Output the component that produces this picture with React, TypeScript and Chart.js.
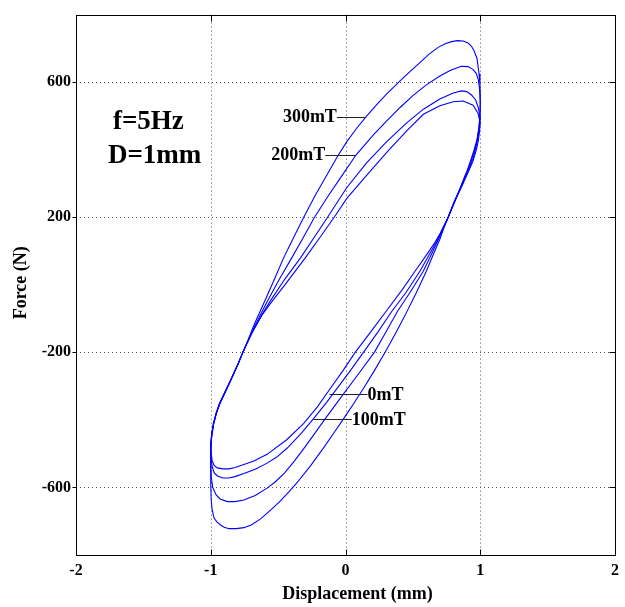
import React, { useEffect, useRef } from "react";
import { Chart, registerables } from "chart.js";

Chart.register(...registerables);

// ---- axes ----
const xMin = -2;
const xMax = 2;
const yMin = -800;
const yMax = 800;
const xTicks = [-2, -1, 0, 1, 2];
const yTicks = [-600, -200, 200, 600];
const xTitle = "Displacement (mm)";
const yTitle = "Force (N)";

// ---- hysteresis loops (displacement mm, force N) ----
const disp0mT = [
  -1.0, -0.993, -0.98, -0.96, -0.935, -0.9, -0.85, -0.8, -0.762, -0.7, -0.62, -0.545, -0.45, -0.3, -0.19, -0.084, 0.01, 0.158, 0.306, 0.454, 0.578, 0.7, 0.8, 0.873, 0.947, 0.984, 1.0,
  0.995, 0.985, 0.97, 0.945, 0.91, 0.87, 0.82, 0.762, 0.7, 0.663, 0.6, 0.516, 0.42, 0.306, 0.19, 0.072, -0.02, -0.118, -0.21, -0.31, -0.434, -0.582, -0.68, -0.754, -0.82, -0.865, -0.91, -0.951, -0.975, -0.99, -0.998, -1.0,
];
const force0mT = [
  -470, -440, -410, -380, -352, -322, -280, -237, -200, -145, -90, -49, 0, 79, 140, 200, 256, 325, 392, 456, 505, 530, 542, 544, 532, 507, 480,
  455, 425, 398, 365, 333, 298, 255, 200, 150, 125, 88, 40, -15, -76, -138, -200, -255, -310, -362, -410, -458, -502, -522, -532, -541, -545, -545, -542, -535, -520, -495, -470,
];

const disp100mT = [
  -1.0, -0.993, -0.98, -0.96, -0.935, -0.895, -0.85, -0.8, -0.762, -0.7, -0.63, -0.56, -0.45, -0.335, -0.233, -0.133, 0.01, 0.158, 0.306, 0.45, 0.578, 0.7, 0.8, 0.861, 0.9, 0.935, 0.965, 0.985, 1.0,
  0.995, 0.985, 0.97, 0.945, 0.91, 0.87, 0.82, 0.762, 0.7, 0.68, 0.62, 0.552, 0.45, 0.343, 0.24, 0.133, 0.04, -0.05, -0.14, -0.237, -0.334, -0.434, -0.51, -0.582, -0.67, -0.754, -0.82, -0.865, -0.91, -0.951, -0.975, -0.99, -0.998, -1.0,
];
const force100mT = [
  -478, -445, -412, -381, -352, -318, -280, -237, -200, -148, -95, -49, 17, 79, 140, 200, 288, 362, 424, 478, 520, 550, 568, 574, 572, 562, 548, 525, 495,
  470, 440, 410, 372, 338, 300, 256, 200, 148, 130, 88, 40, -22, -79, -140, -200, -252, -300, -348, -396, -442, -484, -510, -528, -546, -559, -568, -572, -572, -566, -556, -538, -510, -478,
];

const disp200mT = [
  -1.0, -0.993, -0.98, -0.96, -0.935, -0.89, -0.845, -0.8, -0.762, -0.7, -0.64, -0.58, -0.49, -0.4, -0.31, -0.23, -0.13, -0.04, 0.079, 0.207, 0.306, 0.405, 0.5, 0.6, 0.7, 0.78, 0.86, 0.91, 0.945, 0.97, 0.985, 0.995, 1.0,
  0.997, 0.99, 0.975, 0.955, 0.925, 0.885, 0.835, 0.8, 0.762, 0.72, 0.685, 0.64, 0.577, 0.48, 0.385, 0.3, 0.214, 0.1, -0.02, -0.15, -0.3, -0.38, -0.45, -0.52, -0.582, -0.67, -0.754, -0.82, -0.877, -0.93, -0.96, -0.985, -0.996, -1.0, -1.0,
];
const force200mT = [
  -482, -448, -414, -382, -352, -315, -277, -237, -200, -145, -95, -49, 17, 79, 142, 200, 262, 315, 385, 444, 485, 525, 560, 592, 618, 635, 647, 646, 638, 626, 608, 580, 540,
  500, 465, 425, 395, 357, 320, 270, 238, 200, 162, 130, 92, 40, -22, -79, -140, -200, -262, -326, -396, -480, -522, -556, -583, -602, -624, -637, -642, -642, -634, -622, -600, -570, -540, -482,
];

const disp300mT = [
  -1.0, -0.993, -0.98, -0.96, -0.93, -0.885, -0.84, -0.8, -0.762, -0.72, -0.68, -0.64, -0.6, -0.53, -0.46, -0.385, -0.31, -0.22, -0.138, -0.06, 0.01, 0.08, 0.158, 0.23, 0.306, 0.405, 0.48, 0.552, 0.62, 0.688, 0.74, 0.787, 0.83, 0.873, 0.91, 0.935, 0.955, 0.976, 0.991, 0.998, 1.0,
  1.0, 0.997, 0.99, 0.975, 0.955, 0.93, 0.9, 0.85, 0.8, 0.762, 0.73, 0.7, 0.65, 0.6, 0.52, 0.44, 0.37, 0.294, 0.21, 0.133, 0.06, 0.0, -0.08, -0.163, -0.26, -0.36, -0.42, -0.483, -0.55, -0.63, -0.7, -0.754, -0.81, -0.865, -0.9, -0.927, -0.955, -0.976, -0.99, -0.997, -1.0, -1.0,
];
const force300mT = [
  -485, -450, -415, -383, -350, -312, -273, -237, -200, -160, -120, -84, -49, 14, 79, 140, 200, 268, 325, 380, 424, 462, 500, 533, 565, 604, 632, 658, 683, 703, 714, 720, 723, 722, 716, 706, 692, 670, 625, 590, 560,
  520, 490, 462, 428, 400, 370, 335, 285, 240, 200, 168, 135, 88, 40, -28, -92, -145, -200, -257, -307, -352, -388, -435, -483, -536, -586, -613, -640, -665, -693, -711, -719, -722, -722, -718, -711, -702, -690, -665, -635, -590, -485,
];

const seriesNames = ["0mT", "100mT", "200mT", "300mT"];
const seriesDisp = [disp0mT, disp100mT, disp200mT, disp300mT];
const seriesForce = [force0mT, force100mT, force200mT, force300mT];

// ---- in-plot text (data coordinates) ----
const infoLines = [
  { text: "f=5Hz", x: -1.726, y: 462 },
  { text: "D=1mm", x: -1.763, y: 362 },
];
const labelNotes = [
  { text: "300mT", tx: -0.064, ty: 483, align: "right", x1: -0.064, x2: 0.146, ly: 498 },
  { text: "200mT", tx: -0.15, ty: 370, align: "right", x1: -0.15, x2: 0.079, ly: 385 },
  { text: "0mT", tx: 0.163, ty: -340, align: "left", x1: -0.118, x2: 0.163, ly: -322 },
  { text: "100mT", tx: 0.047, ty: -416, align: "left", x1: -0.237, x2: 0.047, ly: -396 },
];

const SERIF = '"Liberation Serif", "Times New Roman", serif';

const framePlugin = {
  id: "matlabFrame",
  beforeDatasetsDraw(chart: any) {
    const { ctx, chartArea: a, scales } = chart;
    const sx = scales.x;
    const sy = scales.y;
    ctx.save();
    ctx.strokeStyle = "#555555";
    ctx.lineWidth = 1;
    ctx.setLineDash([1, 3]);
    xTicks.forEach((v) => {
      if (v === xMin || v === xMax) return;
      const px = Math.round(sx.getPixelForValue(v)) + 0.5;
      ctx.beginPath();
      ctx.moveTo(px, a.top);
      ctx.lineTo(px, a.bottom);
      ctx.stroke();
    });
    yTicks.forEach((v) => {
      const py = Math.round(sy.getPixelForValue(v)) + 0.5;
      ctx.beginPath();
      ctx.moveTo(a.left, py);
      ctx.lineTo(a.right, py);
      ctx.stroke();
    });
    ctx.restore();
  },
  afterDatasetsDraw(chart: any) {
    const { ctx, chartArea: a, scales } = chart;
    const sx = scales.x;
    const sy = scales.y;
    ctx.save();
    ctx.setLineDash([]);
    ctx.strokeStyle = "#000";
    ctx.lineWidth = 1;
    const L = Math.round(a.left) + 0.5;
    const R = Math.round(a.right) + 0.5;
    const T = Math.round(a.top) + 0.5;
    const B = Math.round(a.bottom) + 0.5;
    ctx.strokeRect(L, T, R - L, B - T);
    // ticks
    ctx.beginPath();
    xTicks.forEach((v) => {
      if (v === xMin || v === xMax) return;
      const px = Math.round(sx.getPixelForValue(v)) + 0.5;
      ctx.moveTo(px, B);
      ctx.lineTo(px, B - 6);
      ctx.moveTo(px, T);
      ctx.lineTo(px, T + 6);
    });
    yTicks.forEach((v) => {
      const py = Math.round(sy.getPixelForValue(v)) + 0.5;
      ctx.moveTo(L, py);
      ctx.lineTo(L - 4, py);
      ctx.moveTo(R, py);
      ctx.lineTo(R - 6, py);
    });
    ctx.stroke();

    // info text
    ctx.fillStyle = "#000";
    ctx.font = "bold 27px " + SERIF;
    ctx.textBaseline = "alphabetic";
    ctx.textAlign = "left";
    infoLines.forEach((t) => {
      ctx.fillText(t.text, sx.getPixelForValue(t.x), sy.getPixelForValue(t.y));
    });

    // labels with leader lines
    ctx.font = "bold 18px " + SERIF;
    ctx.strokeStyle = "#222";
    labelNotes.forEach((n) => {
      const y = Math.round(sy.getPixelForValue(n.ly)) + 0.5;
      ctx.beginPath();
      ctx.moveTo(sx.getPixelForValue(n.x1), y);
      ctx.lineTo(sx.getPixelForValue(n.x2), y);
      ctx.stroke();
      ctx.textAlign = n.align === "left" ? "left" : "right";
      ctx.fillText(n.text, sx.getPixelForValue(n.tx), sy.getPixelForValue(n.ty));
    });

    // axis titles
    ctx.font = "bold 18px " + SERIF;
    ctx.textAlign = "center";
    ctx.textBaseline = "middle";
    ctx.fillText(xTitle, (a.left + a.right) / 2 + 12, 594);
    ctx.save();
    ctx.translate(21, (a.top + a.bottom) / 2 - 2);
    ctx.rotate(-Math.PI / 2);
    ctx.fillText(yTitle, 0, 0);
    ctx.restore();
    ctx.restore();
  },
};

export default function App() {
  const ref = useRef<HTMLCanvasElement>(null);
  useEffect(() => {
    const canvas = ref.current;
    if (!canvas) return;
    const tickFont = { family: SERIF, size: 16, weight: "bold" as const };
    const datasets = seriesNames.map((name, i) => ({
      label: name,
      data: seriesDisp[i].map((x, j) => ({ x, y: seriesForce[i][j] })),
      showLine: true,
      borderColor: "#0000ff",
      backgroundColor: "#0000ff",
      borderWidth: 1.1,
      pointRadius: 0,
      pointHoverRadius: 0,
      fill: false,
      tension: 0,
    }));
    const chart = new Chart(canvas, {
      type: "scatter",
      data: { datasets },
      options: {
        animation: false,
        responsive: false,
        maintainAspectRatio: false,
        events: [],
        layout: { padding: { top: 13, right: 9, left: 0, bottom: 0 } },
        plugins: { legend: { display: false }, tooltip: { enabled: false } },
        scales: {
          x: {
            type: "linear",
            min: xMin,
            max: xMax,
            afterBuildTicks: (s: any) => {
              s.ticks = xTicks.map((v) => ({ value: v }));
            },
            afterFit: (s: any) => {
              s.height = 52;
            },
            grid: { display: false, drawTicks: false },
            border: { display: false },
            ticks: {
              font: tickFont,
              color: "#000",
              padding: 6,
              maxRotation: 0,
              callback: (v: any) => String(v),
            },
          },
          y: {
            type: "linear",
            min: yMin,
            max: yMax,
            afterBuildTicks: (s: any) => {
              s.ticks = yTicks.map((v) => ({ value: v }));
            },
            afterFit: (s: any) => {
              s.width = 76;
            },
            grid: { display: false, drawTicks: false },
            border: { display: false },
            ticks: {
              font: tickFont,
              color: "#000",
              padding: 5,
              callback: (v: any) => String(v),
            },
          },
        },
      },
      plugins: [framePlugin],
    } as any);
    return () => chart.destroy();
  }, []);
  return (
    <div style={{ position: "absolute", left: 0, top: 0, width: 625, height: 607, background: "#fff" }}>
      <canvas ref={ref} width={625} height={607} style={{ display: "block", width: 625, height: 607 }} />
    </div>
  );
}
